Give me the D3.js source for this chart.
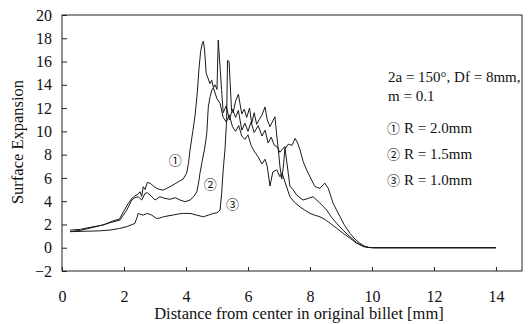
<!DOCTYPE html>
<html>
<head>
<meta charset="utf-8">
<script src="https://cdn.jsdelivr.net/npm/d3@7"></script>
<style>
  body { margin: 0; background: #fff; }
  text { font-family: 'Liberation Serif', 'Times New Roman', serif; fill: #111; }
  .circ { font-family: 'Noto Sans CJK JP', 'DejaVu Sans', sans-serif; }
</style>
</head>
<body>
<div id="chart"></div>
<script>
// R = 2.0mm  [distance, expansion]
const r20 = [
  [0.26, 1.52], [0.6, 1.58], [0.9, 1.75], [1.33, 1.95], [1.66, 2.32], [1.85, 2.45], [1.98, 3.09],
  [2.14, 3.81], [2.25, 4.24], [2.35, 4.45], [2.45, 4.6], [2.52, 4.81], [2.57, 4.4], [2.62, 5.24],
  [2.68, 5.0], [2.75, 5.6], [2.84, 5.55], [2.95, 5.3], [3.06, 5.1], [3.16, 5.0], [3.27, 4.96],
  [3.38, 5.1], [3.48, 5.24], [3.65, 5.5], [3.81, 5.76], [3.91, 5.9], [4.02, 6.4], [4.08, 7.25],
  [4.13, 8.4], [4.22, 10.0], [4.29, 11.3], [4.36, 13.2], [4.42, 15.4], [4.47, 16.8], [4.52, 17.5],
  [4.56, 17.75], [4.6, 17.0], [4.65, 15.0], [4.72, 14.5], [4.77, 14.1], [4.83, 14.4], [4.9, 13.6],
  [5.0, 12.8], [5.1, 12.4], [5.2, 11.2], [5.3, 10.8], [5.4, 11.4], [5.5, 10.4], [5.6, 10.0],
  [5.7, 10.5], [5.8, 9.6], [5.9, 9.3], [6.0, 9.7], [6.1, 8.8], [6.2, 8.3], [6.33, 7.8], [6.45, 7.2],
  [6.55, 7.6], [6.62, 7.0], [6.71, 5.3], [6.8, 6.5], [6.93, 6.7], [7.03, 6.1], [7.1, 6.4], [7.2, 5.6],
  [7.35, 4.4], [7.5, 3.9], [7.68, 3.5], [7.85, 3.2], [8.0, 2.95], [8.15, 2.8], [8.32, 2.66],
  [8.5, 2.4], [8.65, 2.1], [8.85, 1.7], [9.07, 1.24], [9.3, 0.8], [9.5, 0.4], [9.7, 0.15],
  [9.85, 0.04], [10.0, 0], [14, 0]
];

// R = 1.5mm
const r15 = [
  [0.26, 1.38], [0.6, 1.5], [1.01, 1.75], [1.3, 1.95], [1.55, 2.15], [1.87, 2.38], [2.09, 3.24],
  [2.25, 4.1], [2.35, 4.3], [2.46, 4.38], [2.57, 4.1], [2.68, 4.67], [2.75, 4.73], [2.84, 4.53],
  [3.0, 4.1], [3.16, 4.38], [3.32, 4.24], [3.48, 4.16], [3.65, 4.3], [3.81, 4.1], [3.97, 3.95],
  [4.13, 4.1], [4.25, 4.4], [4.35, 4.8], [4.42, 5.8], [4.45, 6.4], [4.52, 7.4], [4.6, 8.5],
  [4.67, 9.8], [4.72, 12.1], [4.78, 13.0], [4.83, 13.5], [4.94, 14.0], [5.0, 13.6], [5.04, 17.85],
  [5.1, 15.5], [5.15, 13.5], [5.2, 11.6], [5.3, 12.2], [5.4, 11.0], [5.5, 11.9], [5.6, 11.2],
  [5.69, 11.8], [5.8, 10.1], [5.9, 10.7], [6.0, 10.0], [6.1, 10.8], [6.2, 9.9], [6.33, 10.5],
  [6.45, 9.6], [6.55, 10.1], [6.65, 9.0], [6.75, 9.5], [6.85, 8.8], [6.93, 8.7], [7.03, 8.2],
  [7.09, 8.4], [7.19, 8.7], [7.25, 7.4], [7.3, 6.4], [7.35, 5.3], [7.45, 5.0], [7.57, 4.53],
  [7.68, 4.3], [7.78, 4.1], [7.95, 4.25], [8.1, 4.38], [8.3, 3.9], [8.54, 3.24], [8.7, 2.6],
  [8.86, 2.1], [9.07, 1.5], [9.29, 0.95], [9.5, 0.45], [9.72, 0.1], [9.9, 0.02], [10.05, 0], [14, 0]
];

// R = 1.0mm
const r10 = [
  [0.26, 1.38], [0.8, 1.42], [1.2, 1.45], [1.55, 1.52], [1.85, 1.65], [2.09, 1.81], [2.35, 2.09],
  [2.42, 2.6], [2.46, 2.95], [2.55, 2.85], [2.62, 2.81], [2.75, 2.95], [2.89, 2.81], [3.05, 2.52],
  [3.16, 2.55], [3.27, 2.66], [3.45, 2.75], [3.59, 2.81], [3.75, 2.9], [3.91, 2.95], [4.13, 2.95],
  [4.35, 2.8], [4.56, 2.66], [4.72, 2.8], [4.88, 2.95], [5.0, 3.0], [5.1, 3.24], [5.15, 4.67],
  [5.2, 6.67], [5.26, 8.5], [5.31, 11.0], [5.34, 16.1], [5.39, 16.0], [5.42, 14.4], [5.47, 11.8],
  [5.52, 11.6], [5.6, 12.6], [5.69, 13.2], [5.74, 12.4], [5.8, 11.5], [5.88, 11.9], [5.96, 11.2],
  [6.05, 12.0], [6.12, 10.7], [6.2, 11.6], [6.28, 10.6], [6.36, 11.0], [6.45, 11.4], [6.55, 12.1],
  [6.62, 11.0], [6.71, 10.4], [6.8, 10.9], [6.87, 11.25], [6.93, 9.6], [6.98, 8.4], [7.03, 7.0],
  [7.09, 5.9], [7.15, 7.2], [7.19, 8.5], [7.3, 8.9], [7.42, 8.8], [7.52, 9.4], [7.6, 9.0],
  [7.68, 8.4], [7.78, 7.4], [7.89, 6.7], [8.0, 6.1], [8.16, 5.25], [8.32, 5.1], [8.42, 5.4],
  [8.48, 5.55], [8.59, 5.1], [8.75, 3.8], [8.97, 2.66], [9.12, 1.9], [9.29, 1.24], [9.45, 0.75],
  [9.61, 0.38], [9.75, 0.15], [9.88, 0.03], [10.1, 0], [14, 0]
];

const xTicks = [0, 2, 4, 6, 8, 10, 12, 14];
const yTicks = [-2, 0, 2, 4, 6, 8, 10, 12, 14, 16, 18, 20];
const notes = ['2a = 150°, Df = 8mm,', 'm = 0.1'];
const legend = [['①', 'R = 2.0mm'], ['②', 'R = 1.5mm'], ['③', 'R = 1.0mm']];
// circled label placed next to each curve: [mark, x, y] in data units
const curveTags = [['①', 3.65, 7.6], ['②', 4.78, 5.5], ['③', 5.5, 3.8]];

const width = 529, height = 324;
const plotL = 62, plotR = 522, plotT = 15, plotB = 271;

const x = d3.scaleLinear().domain([0, 14.84]).range([plotL, plotR]);
const y = d3.scaleLinear().domain([-2, 20]).range([plotB, plotT]);

const svg = d3.select('#chart').append('svg')
  .attr('width', width)
  .attr('height', height);

// frame
svg.append('rect')
  .attr('x', plotL).attr('y', plotT)
  .attr('width', plotR - plotL).attr('height', plotB - plotT)
  .attr('fill', 'none').attr('stroke', '#222').attr('stroke-width', 1);

const xAxis = d3.axisBottom(x).tickValues(xTicks).tickSize(-4).tickPadding(20).tickFormat(d3.format('d'));
const yAxis = d3.axisLeft(y).tickValues(yTicks).tickSize(-5).tickPadding(10).tickFormat(d3.format('d'));

const gx = svg.append('g')
  .attr('transform', 'translate(0,' + plotB + ')')
  .call(xAxis);
const gy = svg.append('g')
  .attr('transform', 'translate(' + plotL + ',0)')
  .call(yAxis);

[gx, gy].forEach(function (g) {
  g.select('.domain').remove();
  g.selectAll('line').attr('stroke', '#222');
  g.selectAll('text')
    .attr('fill', '#111')
    .style('font-family', "'Liberation Serif', serif")
    .style('font-size', '16px');
});

const line = d3.line()
  .x(function (d) { return x(d[0]); })
  .y(function (d) { return y(d[1]); });

[r20, r15, r10].forEach(function (s) {
  svg.append('path')
    .datum(s)
    .attr('d', line)
    .attr('fill', 'none')
    .attr('stroke', '#1a1a1a')
    .attr('stroke-width', 1)
    .attr('stroke-linejoin', 'round');
});

// axis titles
svg.append('text')
  .attr('x', 299).attr('y', 319)
  .attr('text-anchor', 'middle')
  .style('font-size', '16.5px')
  .text('Distance from center in original billet [mm]');

svg.append('text')
  .attr('transform', 'translate(23,142) rotate(-90)')
  .attr('text-anchor', 'middle')
  .style('font-size', '16.5px')
  .text('Surface Expansion');

// condition notes
svg.selectAll('.note')
  .data(notes)
  .enter().append('text')
  .attr('class', 'note')
  .attr('x', 388)
  .attr('y', function (d, i) { return 82 + i * 19; })
  .style('font-size', '15px')
  .text(function (d) { return d; });

// legend
const lg = svg.selectAll('.lg')
  .data(legend)
  .enter().append('g')
  .attr('class', 'lg')
  .attr('transform', function (d, i) { return 'translate(387,' + (133 + i * 26) + ')'; });
lg.append('text')
  .attr('class', 'circ')
  .style('font-size', '13px')
  .text(function (d) { return d[0]; });
lg.append('text')
  .attr('x', 17)
  .style('font-size', '15px')
  .text(function (d) { return d[1]; });

// circled tags next to curves
svg.selectAll('.tag')
  .data(curveTags)
  .enter().append('text')
  .attr('class', 'circ')
  .attr('x', function (d) { return x(d[1]); })
  .attr('y', function (d) { return y(d[2]); })
  .attr('text-anchor', 'middle')
  .attr('dominant-baseline', 'central')
  .style('font-size', '13px')
  .text(function (d) { return d[0]; });
</script>
</body>
</html>
